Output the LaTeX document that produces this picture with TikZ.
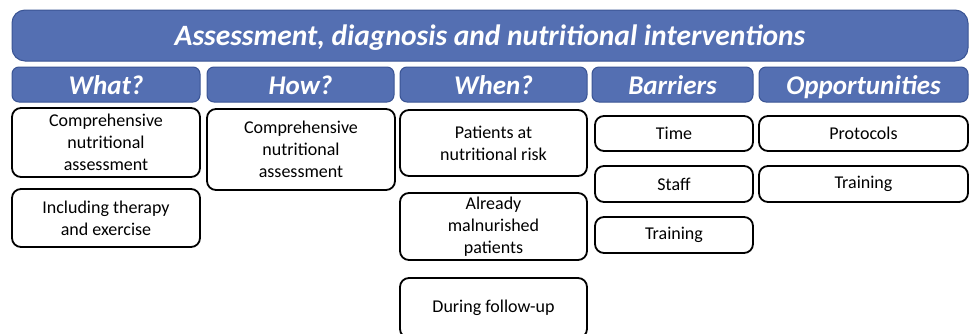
\documentclass[tikz,border=0pt]{standalone}
\usepackage{fontspec}
\setmainfont{Carlito}
\definecolor{hdrfill}{RGB}{84,111,178}
\definecolor{hdrdraw}{RGB}{58,84,148}
\tikzset{
  hdr/.style={draw=hdrdraw, line width=1pt, fill=hdrfill, rounded corners=7pt, text=white,
    font=\fontsize{27}{32}\selectfont\bfseries\itshape, inner sep=0pt, minimum height=35pt,
    text height=22pt, text depth=3pt},
  ttl/.style={hdr, rounded corners=13pt, font=\fontsize{29.5}{35}\selectfont\bfseries\itshape,
    text height=23pt, text depth=4pt},
  cbox/.style={draw=black, line width=1.8pt, fill=white, rounded corners=9pt, align=center,
    font=\fontsize{18}{21.7}\selectfont, inner sep=0pt}
}
\begin{document}
\begin{tikzpicture}[x=1pt,y=-1pt]
\useasboundingbox (0,0) rectangle (970,333);
\clip (0,0) rectangle (970,333);
\node[ttl, minimum width=956pt, minimum height=51pt] (title) at (490,35.5) {Assessment, diagnosis and nutritional interventions};
\node[hdr, minimum width=188pt] (what) at (106,84.5) {What?};
\node[hdr, minimum width=187pt] (how) at (300.5,84.5) {How?};
\node[hdr, minimum width=187pt] (when) at (493.5,84.5) {When?};
\node[hdr, minimum width=161pt] (barr) at (672.5,84.5) {Barriers};
\node[hdr, minimum width=209pt] (opp) at (863.5,84.5) {Opportunities};
% What
\node[cbox, minimum width=188pt, minimum height=69pt] (w1) at (106,142.5) {Comprehensive\\nutritional\\assessment};
\node[cbox, minimum width=188pt, minimum height=58pt] (w2) at (106,218) {Including therapy\\and exercise};
% How
\node[cbox, minimum width=188pt, minimum height=81pt] (h1) at (301,149.5) {Comprehensive\\nutritional\\assessment};
% When
\node[cbox, minimum width=187pt, minimum height=66pt] (n1) at (493.5,143) {Patients at\\nutritional risk};
\node[cbox, minimum width=187pt, minimum height=67pt] (n2) at (493.5,226.5) {Already\\malnurished\\patients};
\node[cbox, minimum width=187pt, minimum height=60pt] (n3) at (493.5,308) {During follow-up};
% Barriers
\node[cbox, minimum width=158pt, minimum height=35pt] (b1) at (674,133.5) {Time};
\node[cbox, minimum width=158pt, minimum height=36pt] (b2) at (674,184) {Staff};
\node[cbox, minimum width=158pt, minimum height=36pt] (b3) at (674,235) {Training};
% Opportunities
\node[cbox, minimum width=209pt, minimum height=35pt] (o1) at (863.5,133.5) {Protocols};
\node[cbox, minimum width=209pt, minimum height=36pt] (o2) at (863.5,184) {Training};
\end{tikzpicture}
\end{document}
